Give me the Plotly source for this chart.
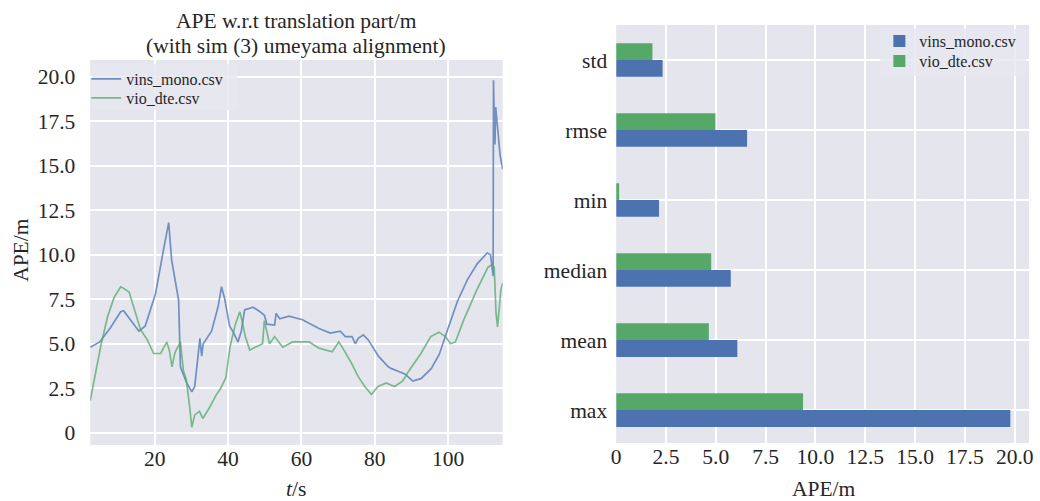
import plotly.graph_objects as go

# ---------------- data ----------------
t_vins = [2.4, 5.0, 7.9, 10.7, 11.5, 13.5, 15.7, 17.4, 20.2, 22.4, 23.4, 23.8, 24.6, 25.6, 26.5,
          27.0, 28.7, 30.1, 30.9, 31.8, 32.3, 32.8, 33.2, 35.5, 37.3, 38.2, 39.1, 40.4, 41.4,
          42.7, 43.6, 44.5, 46.8, 48.7, 49.9, 50.6, 52.7, 53.1, 54.1, 56.6, 60.3, 64.8, 67.9,
          70.6, 72.0, 73.8, 74.7, 75.5, 76.9, 78.3, 81.0, 83.7, 84.6, 86.4, 88.2, 90.4, 92.7,
          95.4, 97.6, 99.9, 102.6, 105.3, 108.0, 110.7, 111.6, 112.3, 112.4, 112.6, 112.8,
          113.0, 113.5, 114.2, 114.9]
v_vins = [4.8, 5.1, 5.9, 6.8, 6.85, 6.3, 5.7, 6.0, 7.8, 10.3, 11.5, 11.8, 9.7, 8.4, 7.45,
          3.7, 2.8, 2.3, 2.6, 4.3, 5.3, 4.3, 5.0, 5.7, 7.1, 8.2, 7.5, 6.0, 5.65,
          5.1, 5.7, 6.9, 7.05, 6.8, 6.6, 6.1, 6.05, 6.7, 6.4, 6.55, 6.35, 5.85, 5.6,
          5.7, 5.4, 5.4, 5.0, 5.3, 5.5, 5.2, 4.3, 3.7, 3.6, 3.45, 3.3, 2.9, 3.05,
          3.6, 4.4, 5.8, 7.4, 8.6, 9.5, 10.1, 10.0, 8.8, 19.8, 17.6, 16.2,
          18.3, 17.0, 15.6, 14.8]

t_vio = [2.4, 3.9, 5.3, 7.1, 8.9, 10.7, 11.2, 13.0, 14.8, 16.1, 18.0, 19.7, 21.6, 23.3, 24.0,
         24.7, 25.5, 26.5, 27.0, 27.8, 28.6, 29.6, 30.1, 30.9, 32.2, 33.1, 34.9, 36.7, 38.0,
         39.4, 40.5, 42.0, 43.2, 43.8, 44.7, 45.9, 48.3, 49.4, 49.9, 50.6, 51.3, 52.7, 54.9,
         57.6, 62.1, 64.8, 68.4, 70.2, 71.0, 73.7, 75.5, 77.3, 79.1, 80.9, 83.1, 85.4, 87.6,
         89.4, 92.6, 95.3, 97.5, 99.3, 100.7, 102.0, 104.2, 107.8, 110.9, 112.1, 112.6,
         113.1, 113.5, 114.4, 114.9]
v_vio = [1.8, 3.5, 4.9, 6.5, 7.6, 8.2, 8.15, 7.9, 6.7, 5.8, 5.2, 4.45, 4.45, 5.1, 4.6,
         3.7, 4.5, 4.9, 5.1, 3.5, 3.0, 1.3, 0.3, 1.0, 1.2, 0.8, 1.4, 2.1, 2.5,
         3.1, 4.8, 6.1, 6.8, 6.3, 5.4, 4.65, 4.9, 5.0, 6.3, 5.6, 5.0, 5.4, 4.8,
         5.1, 5.1, 4.75, 4.55, 5.1, 4.85, 3.9, 3.15, 2.6, 2.15, 2.6, 2.8, 2.6, 2.9,
         3.5, 4.45, 5.4, 5.65, 5.4, 5.0, 5.1, 6.3, 8.0, 9.3, 9.45, 9.3,
         6.7, 5.95, 8.0, 8.4]

stats = ["max", "mean", "median", "min", "rmse", "std"]
stats_vins = [19.78, 6.08, 5.75, 2.15, 6.57, 2.33]
stats_vio = [9.38, 4.65, 4.77, 0.15, 4.98, 1.82]

left_yticks = [0, 2.5, 5, 7.5, 10, 12.5, 15, 17.5, 20]
left_yticktext = ["0", "2.5", "5.0", "7.5", "10.0", "12.5", "15.0", "17.5", "20.0"]
left_xticks = [20, 40, 60, 80, 100]
right_xticks = [0, 2.5, 5, 7.5, 10, 12.5, 15, 17.5, 20]
right_xticktext = ["0", "2.5", "5.0", "7.5", "10.0", "12.5", "15.0", "17.5", "20.0"]

BLUE = "#4C72B0"
GREEN = "#55A868"
BG = "#E4E5ED"
FONT = "Liberation Serif"
TXT = "#262626"
W, H = 1040, 501
TICK_SIZE = 21.5

def px(x):
    return x / W

def py(y):
    return 1 - y / H

fig = go.Figure()
fig.add_trace(go.Scatter(x=t_vins, y=v_vins, mode="lines", name="vins_mono.csv",
                         line=dict(color=BLUE, width=1.7), opacity=0.75,
                         xaxis="x", yaxis="y", legend="legend"))
fig.add_trace(go.Scatter(x=t_vio, y=v_vio, mode="lines", name="vio_dte.csv",
                         line=dict(color=GREEN, width=1.7), opacity=0.75,
                         xaxis="x", yaxis="y", legend="legend2"))
fig.add_trace(go.Bar(y=stats, x=stats_vins, orientation="h", name="vins_mono.csv",
                     marker=dict(color=BLUE, line=dict(width=0)),
                     xaxis="x2", yaxis="y2", legend="legend3"))
fig.add_trace(go.Bar(y=stats, x=stats_vio, orientation="h", name="vio_dte.csv",
                     marker=dict(color=GREEN, line=dict(width=0)),
                     xaxis="x2", yaxis="y2", legend="legend4"))

axis_common = dict(showgrid=True, gridcolor="white", gridwidth=1.5, zeroline=False,
                   showline=False, ticks="",
                   tickfont=dict(family=FONT, size=TICK_SIZE, color=TXT))

def leg(x, y):
    return dict(x=px(x), y=py(y), xanchor="left", yanchor="top",
                bgcolor="rgba(0,0,0,0)", borderwidth=0,
                font=dict(family=FONT, size=16, color=TXT),
                tracegroupgap=0, itemwidth=30)

fig.update_layout(
    width=W, height=H,
    margin=dict(l=0, r=0, t=0, b=0),
    paper_bgcolor="white", plot_bgcolor=BG,
    font=dict(family=FONT, color=TXT),
    barmode="group", bargap=0.52, bargroupgap=0,
    xaxis=dict(domain=[px(86), px(502)], range=[2.4, 114.9], tickvals=left_xticks,
               anchor="y", ticklabelstandoff=-2, **axis_common),
    yaxis=dict(domain=[py(445), py(60)], range=[-0.69, 20.94], tickvals=left_yticks,
               ticktext=left_yticktext, anchor="x", ticklabelstandoff=14, **axis_common),
    xaxis2=dict(domain=[px(616.5), px(1033)], range=[0, 20.72], tickvals=right_xticks,
                ticktext=right_xticktext, anchor="y2", ticklabelstandoff=-2, **axis_common),
    yaxis2=dict(domain=[py(443), py(25)], range=[-0.47, 5.5], type="category",
                categoryorder="array", categoryarray=stats, anchor="x2",
                ticklabelstandoff=8, **axis_common),
    legend=leg(82, 62),
    legend2=leg(82, 81),
    legend3=leg(882, 24),
    legend4=leg(882, 44),
    showlegend=True,
)

# faint legend frames (semi-transparent, like the original)
fig.add_shape(type="rect", xref="paper", yref="paper",
              x0=px(88), x1=px(234), y0=py(110), y1=py(64),
              fillcolor="rgba(232,232,240,0.85)", line=dict(width=0), layer="above")
fig.add_shape(type="rect", xref="paper", yref="paper",
              x0=px(883), x1=px(1030), y0=py(76), y1=py(29),
              fillcolor="rgba(232,232,240,0.85)", line=dict(width=0), layer="above")

annots = [
    dict(text="APE w.r.t translation part/m", x=px(294), y=py(21)),
    dict(text="(with sim (3) umeyama alignment)", x=px(294), y=py(46)),
    dict(text="<i>t</i>/s", x=px(294), y=py(489)),
    dict(text="APE/m", x=px(826), y=py(489)),
]
for a in annots:
    fig.add_annotation(xref="paper", yref="paper", showarrow=False,
                       xanchor="center", yanchor="middle",
                       font=dict(family=FONT, size=21.5, color=TXT), **a)
fig.add_annotation(xref="paper", yref="paper", showarrow=False, text="APE/m",
                   x=px(16), y=py(250), textangle=-90, xanchor="center", yanchor="middle",
                   font=dict(family=FONT, size=21.5, color=TXT))

fig.write_html("out.html")
